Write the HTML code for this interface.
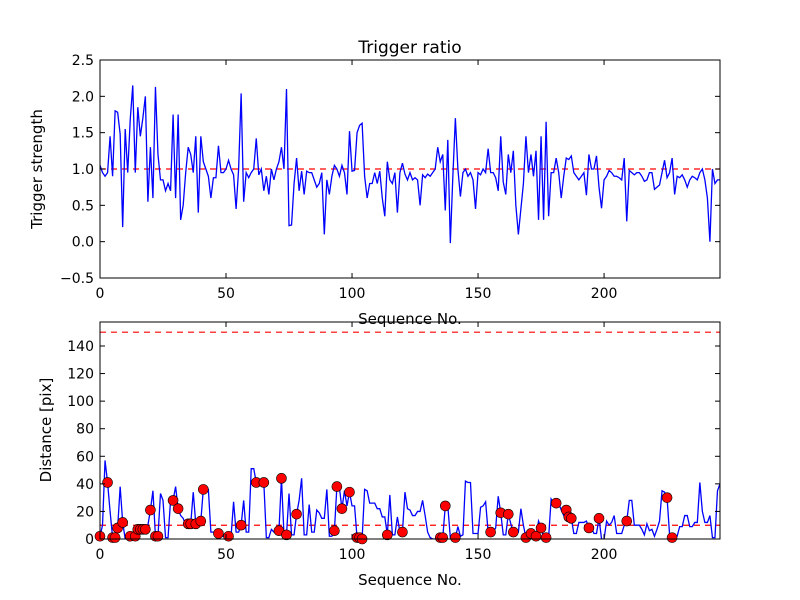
<!DOCTYPE html>
<html><head><meta charset="utf-8"><style>
html,body{margin:0;padding:0;background:#fff;}
svg{display:block;font-family:"DejaVu Sans","Liberation Sans",sans-serif;}
</style></head><body>
<svg id="chart" width="800" height="600" viewBox="0 0 800 600" xmlns="http://www.w3.org/2000/svg">
<rect width="800" height="600" fill="#fff"/>
<text x="410" y="53" font-size="17" text-anchor="middle">Trigger ratio</text>
<text x="410" y="324" font-size="15" text-anchor="middle">Sequence No.</text>
<text x="0" y="0" font-size="15" text-anchor="middle" transform="translate(42,169) rotate(-90)">Trigger strength</text>
<text x="410" y="585" font-size="15" text-anchor="middle">Sequence No.</text>
<text x="0" y="0" font-size="15" text-anchor="middle" transform="translate(51,430) rotate(-90)">Distance [pix]</text>
<g id="top"></g>
<g id="bot"></g>
</svg>
<script>
const trigger = [1.05,0.95,0.9,0.95,1.45,0.9,1.8,1.78,1.48,0.2,1.55,0.95,1.68,2.15,0.95,1.85,1.45,1.7,2.0,0.55,1.3,0.6,2.13,1.2,0.85,0.85,0.7,0.8,0.7,1.75,0.6,1.75,0.3,0.5,0.95,1.3,1.2,0.95,1.45,0.4,1.45,1.1,1.0,0.9,0.6,0.88,0.88,1.32,0.95,0.95,1.0,1.12,1.0,0.92,0.45,1.0,2.04,0.55,0.95,0.88,0.95,1.0,1.42,0.92,1.0,0.7,0.9,0.65,1.0,0.85,1.0,1.1,1.3,1.0,2.1,0.22,0.23,0.8,1.15,0.7,0.97,0.65,0.97,0.95,0.95,0.85,0.75,0.8,0.95,0.1,0.85,0.65,0.9,1.05,1.0,0.9,1.05,0.95,0.65,1.52,0.97,0.98,1.5,1.6,1.63,0.9,0.6,0.8,0.8,0.95,0.8,0.97,0.6,0.35,1.1,0.85,0.8,0.95,0.4,0.95,1.08,0.93,0.85,0.95,0.85,0.88,0.85,0.5,0.92,0.88,0.93,0.9,0.95,1.0,1.3,1.1,1.2,0.43,1.4,-0.02,0.9,1.7,1.0,0.62,0.95,1.0,0.9,0.95,0.85,0.45,0.95,0.92,1.0,0.95,1.28,0.95,0.95,0.88,0.7,1.45,0.82,0.65,1.2,0.95,1.25,0.5,0.1,0.45,0.8,1.45,0.95,1.2,0.9,1.25,0.3,1.45,0.3,1.65,0.35,0.95,0.95,1.15,0.95,0.6,0.9,1.15,1.13,1.18,0.95,0.9,0.85,0.9,0.95,0.64,1.2,1.0,1.0,1.18,0.75,0.46,0.85,0.9,0.98,0.95,0.9,0.9,0.88,0.85,1.15,0.28,0.98,0.95,0.92,0.95,0.95,0.9,0.83,0.85,0.95,0.95,0.72,0.75,0.78,0.95,1.12,0.88,0.95,1.15,0.65,0.9,0.88,0.92,0.85,0.75,0.85,0.9,0.88,0.85,0.95,1.0,0.85,0.6,0.0,1.0,0.8,0.85,0.85];
const distance = [2,10,57,41,20,1,1,8,38,12,0,0,2,2,2,7,7,7,7,10,21,35,2,2,33,28,1,1,28,28,38,22,17,15,10,11,11,34,11,12,13,36,36,36,5,5,5,4,2,2,2,2,2,27,5,5,10,28,5,5,51,51,41,41,41,41,1,1,7,5,5,6,44,3,3,33,3,3,18,28,44,3,3,25,5,5,21,19,15,15,36,2,2,6,38,37,22,35,24,34,24,24,1,1,0,36,35,26,26,26,22,22,16,16,3,32,3,3,16,5,5,34,22,21,17,17,20,20,28,17,5,1,0,0,0,1,1,24,24,1,1,1,9,2,3,42,41,41,4,4,4,23,24,27,5,5,5,8,31,19,3,3,18,11,5,5,5,22,10,1,3,4,4,2,13,8,1,1,1,29,26,26,26,21,17,21,16,15,4,4,12,12,12,13,8,8,4,4,15,0,0,13,10,12,17,4,4,4,10,13,28,28,10,10,10,7,3,11,6,7,2,7,13,35,34,30,3,1,1,2,9,9,17,17,9,9,12,12,41,20,12,12,17,1,1,35,40];
const markerIdx = [0,3,5,6,7,9,12,14,15,16,17,18,20,22,23,29,31,35,36,38,40,41,47,51,56,62,65,71,72,74,78,93,94,96,99,102,103,104,114,120,135,136,137,141,155,159,162,164,169,171,173,175,177,181,185,186,187,194,198,209,225,227];
const xTicks = [0,50,100,150,200];
const topYTicks = [-0.5,0.0,0.5,1.0,1.5,2.0,2.5];
const botYTicks = [0,20,40,60,80,100,120,140];
const topThreshold = [1.0];
const botThresholds = [10,150];

const NS="http://www.w3.org/2000/svg";
const X0=100,X1=720,XMAX=246;
const sx=v=>X0+(v/XMAX)*(X1-X0);
function mk(parent,tag,attrs){const e=document.createElementNS(NS,tag);for(const k in attrs)e.setAttribute(k,attrs[k]);parent.appendChild(e);return e;}

function panel(g,Y0,Y1,ymin,ymax,yTicks,fmt,vals,thr,markers,pfx){
  const sy=v=>Y1-(v-ymin)/(ymax-ymin)*(Y1-Y0);
  thr.forEach(t=>{const l=mk(g,'line',{x1:X0,x2:X1,y1:sy(t),y2:sy(t),stroke:'#ff0000','stroke-width':1.2,'stroke-dasharray':'6,5'});
    
    });
  const pts=vals.map((v,i)=>sx(i).toFixed(2)+','+sy(v).toFixed(2)).join(' ');
  const cp=mk(g,'clipPath',{id:pfx+'clip'});mk(cp,'rect',{x:X0,y:Y0,width:X1-X0,height:Y1-Y0});
  const pl=mk(g,'polyline',{points:pts,fill:'none',stroke:'#0000ff','stroke-width':1.3,'clip-path':'url(#'+pfx+'clip)'});
  
  
  if(markers){markers.forEach(i=>{const c=mk(g,'circle',{cx:sx(i),cy:sy(vals[i]),r:5,fill:'#ff0000',stroke:'#000','stroke-width':0.6});
    
    });}
  const fr=mk(g,'rect',{x:X0,y:Y0,width:X1-X0,height:Y1-Y0,fill:'none',stroke:'#000','stroke-width':1});
  
  
  xTicks.forEach(t=>{const x=sx(t);
    mk(g,'line',{x1:x,x2:x,y1:Y1,y2:Y1-5,stroke:'#000'});
    mk(g,'line',{x1:x,x2:x,y1:Y0,y2:Y0+5,stroke:'#000'});
    const tx=mk(g,'text',{x:x,y:Y1+20,'font-size':14,'text-anchor':'middle'});tx.textContent=t;
    
    });
  yTicks.forEach(t=>{const y=sy(t);
    mk(g,'line',{x1:X0,x2:X0+5,y1:y,y2:y,stroke:'#000'});
    mk(g,'line',{x1:X1,x2:X1-5,y1:y,y2:y,stroke:'#000'});
    const tx=mk(g,'text',{x:X0-6,y:y+5,'font-size':14,'text-anchor':'end'});tx.textContent=fmt(t);
    
    });
}
panel(document.getElementById('top'),60,278,-0.5,2.5,topYTicks,t=>(t<0?'\u2212':'')+Math.abs(t).toFixed(1),trigger,topThreshold,null,'top');
panel(document.getElementById('bot'),322,539,0,157.4,botYTicks,t=>String(t),distance,botThresholds,markerIdx,'bottom');
</script>
</body></html>
